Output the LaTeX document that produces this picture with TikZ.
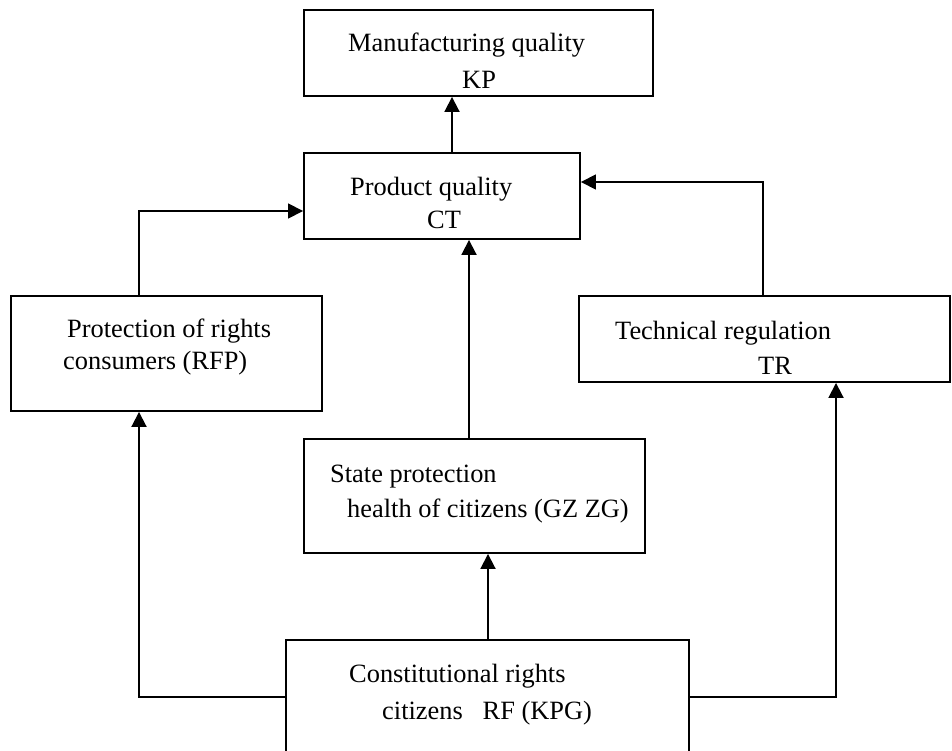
\documentclass[tikz,border=0pt]{standalone}
\usepackage{fontspec}
\setmainfont{Liberation Serif}
\usetikzlibrary{arrows.meta}
\begin{document}
\begin{tikzpicture}[x=1pt,y=-1pt,
  box/.style={draw,line width=1.9pt,inner sep=0pt,rectangle},
  lbl/.style={anchor=base west,inner sep=0pt,font=\fontsize{26.4pt}{32pt}\selectfont},
  arr/.style={line width=1.9pt,-{Triangle[length=15pt,width=15pt]}}]
\useasboundingbox (0,0) rectangle (952,751);

% boxes
\node[box,minimum width=349pt,minimum height=86pt]  (kp)  at (478.5,53)  {};
\node[box,minimum width=276pt,minimum height=86pt]  (ct)  at (442,196)   {};
\node[box,minimum width=311pt,minimum height=115pt] (rfp) at (166.5,353.5) {};
\node[box,minimum width=371pt,minimum height=86pt]  (tr)  at (764.5,339) {};
\node[box,minimum width=341pt,minimum height=114pt] (gz)  at (474.5,496) {};
\node[box,minimum width=403pt,minimum height=120pt] (kpg) at (487.5,700) {};

% labels
\node[lbl] (kp1)  at (348,52)  {Manufacturing quality};
\node[lbl] (kp2)  at (462,89)  {KP};
\node[lbl] (ct1)  at (350,196) {Product quality};
\node[lbl] (ct2)  at (427,229) {CT};
\node[lbl] (rfp1) at (67,337)  {Protection of rights};
\node[lbl] (rfp2) at (63,369)  {consumers (RFP)};
\node[lbl] (tr1)  at (615,339) {Technical regulation};
\node[lbl] (tr2)  at (758,374) {TR};
\node[lbl] (gz1)  at (330,482) {State protection};
\node[lbl] (gz2)  at (347,517) {health of citizens (GZ ZG)};
\node[lbl] (kpg1) at (349,682) {Constitutional rights};
\node[lbl] (kpg2) at (382,719) {citizens\ \ \ RF (KPG)};

% routing points for the connectors
\coordinate (xkp) at (452,0);
\coordinate (xa)  at (139,211);
\coordinate (xb)  at (763,182);
\coordinate (xc)  at (469,0);
\coordinate (xd)  at (488,0);
\coordinate (ye)  at (139,697);
\coordinate (yf)  at (836,697);

% connectors
\draw[arr] (ct.north -| xkp) -- (kp.south -| xkp);
\draw[arr,line width=1.6pt] (rfp.north -| xa) |- (ct.west |- xa);
\draw[arr,line width=1.6pt] (tr.north -| xb) |- (ct.east |- xb);
\draw[arr] (gz.north -| xc) -- (ct.south -| xc);
\draw[arr] (kpg.north -| xd) -- (gz.south -| xd);
\draw[arr] (kpg.west |- ye) -| (rfp.south -| ye);
\draw[arr] (kpg.east |- yf) -| (tr.south -| yf);
\end{tikzpicture}
\end{document}
